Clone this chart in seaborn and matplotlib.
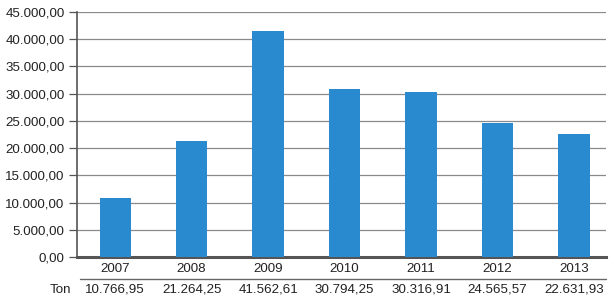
import matplotlib
matplotlib.use("Agg")
import matplotlib.pyplot as plt
import matplotlib.transforms as mtrans
import seaborn as sns
import pandas as pd

years = ["2007", "2008", "2009", "2010", "2011", "2012", "2013"]
values = [10766.95, 21264.25, 41562.61, 30794.25, 30316.91, 24565.57, 22631.93]
row_label = "Ton"
yticks = [0, 5000, 10000, 15000, 20000, 25000, 30000, 35000, 40000, 45000]

def fmt(v):
    s = f"{v:,.2f}"
    return s.replace(",", "X").replace(".", ",").replace("X", ".")

sns.set_theme(style="white")
plt.rcParams['font.family'] = ['Liberation Sans', 'DejaVu Sans']

W, H = 615, 300
FS = 9.6
fig = plt.figure(figsize=(W/100, H/100), dpi=100)
left, right, top, bottom = 77, 606, 12, 257
ax = fig.add_axes([left/W, 1-bottom/H, (right-left)/W, (bottom-top)/H])

df = pd.DataFrame({"year": years, "value": values})
sns.barplot(data=df, x="year", y="value", color="#2a8ad0", saturation=1,
            width=0.41, linewidth=0, ax=ax, zorder=3)
ax.set_xlim(-0.5, 6.42)
ax.set_ylim(0, 45000)
ax.set_yticks(yticks)
ax.set_yticklabels([fmt(v) for v in yticks], fontsize=FS, color="#222222")
ax.yaxis.grid(True, color="#8a8a8a", linewidth=0.9, zorder=0)
ax.set_axisbelow(True)
ax.set_xlabel("")
ax.set_ylabel("")
ax.tick_params(axis="y", length=6, width=0.9, color="#555555", pad=3, left=True)
ax.tick_params(axis="x", length=0, labelsize=FS, labelcolor="#222222", pad=4)
for s in ["top", "right"]:
    ax.spines[s].set_visible(False)
ax.spines["left"].set_color("#555555")
ax.spines["left"].set_linewidth(1.2)
ax.spines["bottom"].set_color("#555555")
ax.spines["bottom"].set_linewidth(2.2)

# data table row
line_y = 1 - 279/H
fig.add_artist(plt.Line2D([80/W, 606/W], [line_y, line_y], transform=fig.transFigure,
                          color="#666666", linewidth=1.0))
ty = 1 - 290/H
fig.text(60/W, ty, row_label, ha="center", va="center", fontsize=FS, color="#222222")
trans = mtrans.blended_transform_factory(ax.transData, fig.transFigure)
for i, v in enumerate(values):
    ax.text(i, ty, fmt(v), transform=trans, ha="center", va="center",
            fontsize=FS, color="#222222", clip_on=False)

fig.savefig("out.png", dpi=100)
